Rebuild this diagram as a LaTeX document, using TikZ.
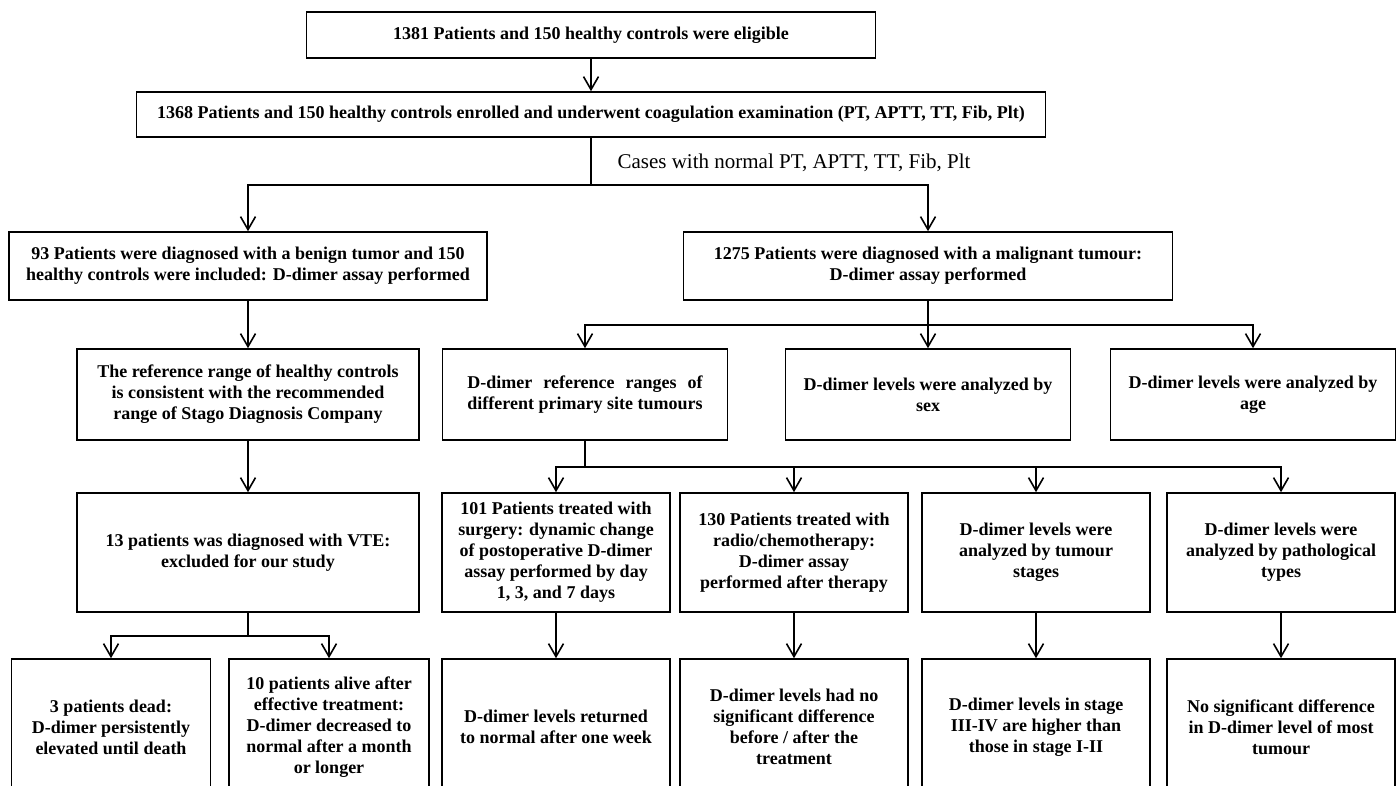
\documentclass[tikz,border=0pt]{standalone}
\usepackage{fontspec}
\setmainfont{Liberation Serif}
\usetikzlibrary{arrows.meta, positioning, calc}

\newlength\siteline

\begin{document}
\begin{tikzpicture}[
    x=1pt, y=-1pt,
    box/.style={draw, line width=1.6pt, align=center, inner sep=2pt, font=\fontsize{18}{21}\selectfont\bfseries},
    link/.style={line width=1.6pt},
    arrow/.style={link, -{Straight Barb[length=13pt, width=15pt]}}
]
    \clip (0,0) rectangle (1399,785);

    % Enrolment
    \node[box, minimum width=569pt, minimum height=46pt] (eligible) at (591,35) {1381 Patients and 150 healthy controls were eligible};
    \node[box, minimum width=909pt, minimum height=45pt] (enrolled) at (591,114.5) {1368 Patients and 150 healthy controls enrolled and underwent coagulation examination (PT, APTT, TT, Fib, Plt)};
    \node[anchor=west, font=\fontsize{21}{24}\selectfont] (cases) at (614,163) {Cases with normal PT, APTT, TT, Fib, Plt};

    % Benign / malignant
    \node[box, minimum width=478pt, minimum height=68pt] (benign) at (248,266) {93 Patients were diagnosed with a benign tumor and 150\\healthy controls were included: D-dimer assay performed};
    \node[box, minimum width=489pt, minimum height=68pt] (malignant) at (928,266) {1275 Patients were diagnosed with a malignant tumour:\\D-dimer assay performed};

    % Benign branch
    \node[box, minimum width=342pt, minimum height=91pt] (refrange) at (248,394.5) {The reference range of healthy controls\\is consistent with the recommended\\range of Stago Diagnosis Company};
    \node[box, minimum width=342pt, minimum height=119pt] (vte) at (248,552.5) {13 patients was diagnosed with VTE:\\excluded for our study};
    \node[box, minimum width=199pt, minimum height=136pt] (dead) at (111,727) {3 patients dead:\\D-dimer persistently\\elevated until death};
    \node[box, minimum width=200pt, minimum height=136pt] (alive) at (329,727) {10 patients alive after\\effective treatment:\\D-dimer decreased to\\normal after a month\\or longer};

    % Malignant branch
    \node[box, minimum width=285pt, minimum height=91pt] (primsite) at (585,394.5) {\settowidth\siteline{different primary site tumours}\makebox[\siteline][s]{D-dimer reference ranges of}\\different primary site tumours};
    \node[box, minimum width=285pt, minimum height=91pt] (sex) at (928,394.5) {D-dimer levels were analyzed by\\sex};
    \node[box, minimum width=285pt, minimum height=91pt] (age) at (1253,394.5) {D-dimer levels were analyzed by\\age};

    \node[box, minimum width=228pt, minimum height=119pt] (surgery) at (556,552.5) {101 Patients treated with\\surgery: dynamic change\\of postoperative D-dimer\\assay performed by day\\1, 3, and 7 days};
    \node[box, minimum width=228pt, minimum height=119pt] (radio) at (794,552.5) {130 Patients treated with\\radio/chemotherapy:\\D-dimer assay\\performed after therapy};
    \node[box, minimum width=228pt, minimum height=119pt] (stages) at (1036,552.5) {D-dimer levels were\\analyzed by tumour\\stages};
    \node[box, minimum width=228pt, minimum height=119pt] (patho) at (1281,552.5) {D-dimer levels were\\analyzed by pathological\\types};

    \node[box, minimum width=228pt, minimum height=136pt] (week) at (556,727) {D-dimer levels returned\\to normal after one week};
    \node[box, minimum width=228pt, minimum height=136pt] (nodiff) at (794,727) {D-dimer levels had no\\significant difference\\before / after the\\treatment};
    \node[box, minimum width=228pt, minimum height=136pt] (higher) at (1036,727) {D-dimer levels in stage\\III-IV are higher than\\those in stage I-II};
    \node[box, minimum width=228pt, minimum height=136pt] (most) at (1281,727) {No significant difference\\in D-dimer level of most\\tumour};

    % Connectors
    \draw[arrow] (eligible) -- (enrolled);
    \draw[arrow] (enrolled.south) -- ++(0,47) -| (benign.north);
    \draw[arrow] (enrolled.south) -- ++(0,47) -| (malignant.north);

    \draw[arrow] (benign) -- (refrange);
    \draw[arrow] (refrange) -- (vte);
    \draw[arrow] (vte.south) -- ++(0,23) -| (dead.north);
    \draw[arrow] (vte.south) -- ++(0,23) -| (alive.north);

    \draw[arrow] (malignant.south) -- ++(0,24) -| (primsite.north);
    \draw[arrow] (malignant) -- (sex);
    \draw[arrow] (malignant.south) -- ++(0,24) -| (age.north);

    \draw[arrow] (primsite.south) -- ++(0,26) -| (surgery.north);
    \draw[arrow] (primsite.south) -- ++(0,26) -| (radio.north);
    \draw[arrow] (primsite.south) -- ++(0,26) -| (stages.north);
    \draw[arrow] (primsite.south) -- ++(0,26) -| (patho.north);

    \draw[arrow] (surgery) -- (week);
    \draw[arrow] (radio) -- (nodiff);
    \draw[arrow] (stages) -- (higher);
    \draw[arrow] (patho) -- (most);
\end{tikzpicture}
\end{document}
